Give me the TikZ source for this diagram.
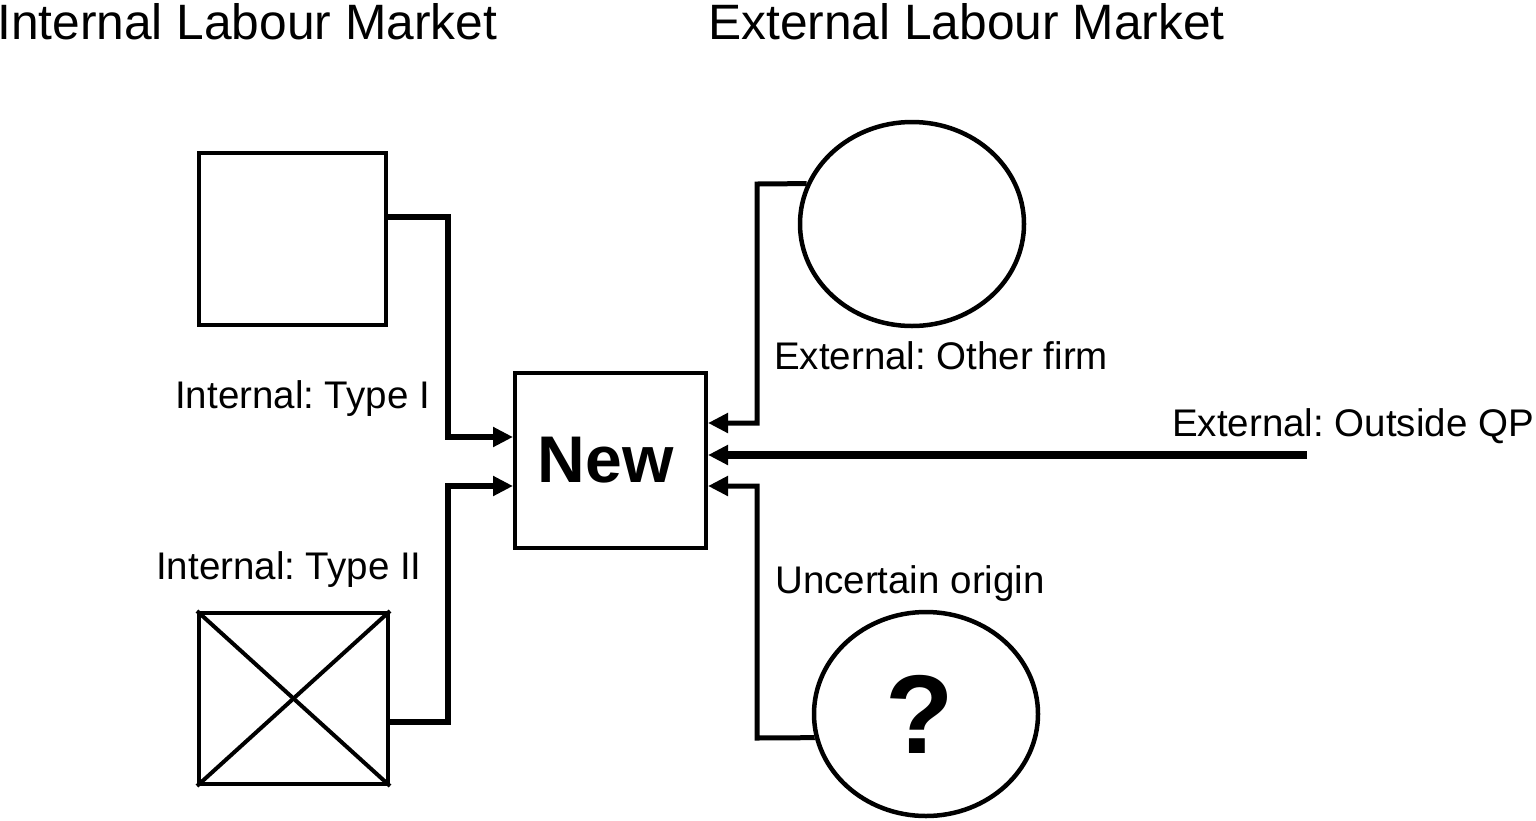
\documentclass[tikz,border=0pt]{standalone}
\usepackage{fontspec}
\setmainfont{Liberation Sans}
\frenchspacing
\usetikzlibrary{arrows.meta,shapes.geometric}
\tikzset{
  pool/.style={draw,line width=4pt,inner sep=0pt},
  firm/.style={draw,ellipse,line width=4.5pt,inner sep=0pt,minimum width=224pt,minimum height=204pt},
  lbl/.style={anchor=base west,inner sep=0pt,font=\fontsize{38.5}{46}\selectfont},
  head/.style={anchor=base west,inner sep=0pt,font=\fontsize{49.7}{60}\selectfont},
  flow/.style={line width=#1,-{Triangle[length=20pt,width=19pt]}},
  flow/.default=6.5pt
}
\begin{document}
\begin{tikzpicture}[x=1pt,y=-1pt]
\useasboundingbox (0,0) rectangle (1536,820);
\node[head] (intlab) at (-3,39) {Internal Labour Market};
\node[head] (extlab) at (708,39) {External Labour Market};
\node[pool,minimum width=187pt,minimum height=172pt] (typeone) at (292.5,239) {};
\node[pool,minimum width=189pt,minimum height=171pt] (typetwo) at (293.5,698.5) {};
\draw[line width=4pt] (typetwo.north west) -- (typetwo.south east);
\draw[line width=4pt] (typetwo.south west) -- (typetwo.north east);
\node[pool,minimum width=191pt,minimum height=175pt,font=\bfseries\fontsize{66}{70}\selectfont] (new) at (610.5,460.5) {\hspace*{-10pt}New};
\node[firm] (other) at (912,224) {};
\node[firm,font=\bfseries\fontsize{112}{120}\selectfont] (uncertain) at (926,714) {\hspace*{-12pt}?};
\coordinate (qpend) at (1307,455);
\node[lbl] (typeonelab) at (175,408) {Internal: Type I};
\node[lbl] (typetwolab) at (156,579) {Internal: Type II};
\node[lbl] (otherlab) at (774,369) {External: Other firm};
\node[lbl] (qplab) at (1172,436) {External: Outside QP};
\node[lbl] (uncertainlab) at (775,593) {Uncertain origin};
\draw[flow] ([yshift=22pt]typeone.east) -- (448,217) |- ([yshift=23.5pt]new.west);
\draw[flow] ([yshift=-23.5pt]typetwo.east) -- (448,722) |- ([yshift=-25.5pt]new.west);
\draw[flow=5pt] (other.159) -- (757,184) |- ([yshift=37.5pt]new.east);
\draw[flow=8pt] (qpend) -- ([yshift=5.5pt]new.east);
\draw[flow=5pt] (uncertain.192) -- (757,738) |- ([yshift=-25.5pt]new.east);
\end{tikzpicture}
\end{document}
